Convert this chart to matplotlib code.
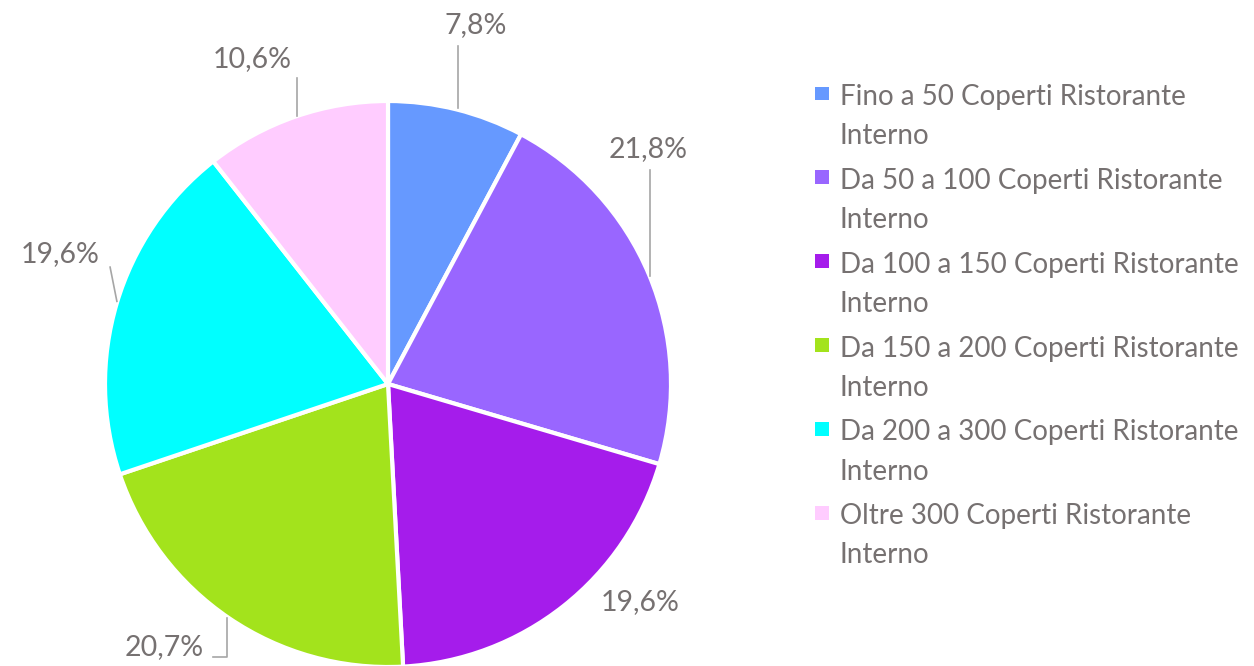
import matplotlib
matplotlib.use('Agg')
import matplotlib.pyplot as plt
from matplotlib.patches import Patch, Rectangle
from matplotlib.legend_handler import HandlerPatch

# share of restaurants by indoor seating capacity
categories = ['Fino a 50 Coperti Ristorante Interno',
              'Da 50 a 100 Coperti Ristorante Interno',
              'Da 100 a 150 Coperti Ristorante Interno',
              'Da 150 a 200 Coperti Ristorante Interno',
              'Da 200 a 300 Coperti Ristorante Interno',
              'Oltre 300 Coperti Ristorante Interno']
values = [7.8, 21.8, 19.6, 20.7, 19.6, 10.6]
label_text = ['7,8%', '21,8%', '19,6%', '20,7%', '19,6%', '10,6%']

colors = ['#6699FF', '#9966FF', '#A51CEB', '#A3E31C', '#00FFFF', '#FFCCFF']
text_color = '#767171'
line_color = '#A6A6A6'

# label placement (in pie-radius units) and leader lines
label_pos = [(0.31, 1.27), (0.92, 0.83), (0.89, -0.77),
             (-0.79, -0.93), (-1.16, 0.46), (-0.48, 1.15)]
leaders = [
    [(0.247, 1.195), (0.247, 0.975)],
    [(0.926, 0.756), (0.926, 0.382)],
    None,
    [(-0.618, -0.965), (-0.569, -0.965), (-0.569, -0.826)],
    [(-0.982, 0.413), (-0.958, 0.292)],
    [(-0.322, 1.081), (-0.322, 0.947)],
]

plt.rcParams['font.family'] = ['Lato', 'DejaVu Sans']

W, H = 1254, 666
fig = plt.figure(figsize=(W / 100, H / 100), dpi=100)
cx, cy, R = 388, 666 - 384, 283
ax = fig.add_axes([(cx - R) / W, (cy - R) / H, 2 * R / W, 2 * R / H])

wedges, _ = ax.pie(values, colors=colors, startangle=90, counterclock=False,
                   radius=1.0, center=(0, 0), frame=False,
                   wedgeprops=dict(edgecolor='white', linewidth=3))
ax.set_xlim(-1, 1)
ax.set_ylim(-1, 1)
ax.axis('off')

for txt, (x, y), ld in zip(label_text, label_pos, leaders):
    ax.text(x, y, txt, ha='center', va='center', fontsize=20.5,
            color=text_color, clip_on=False)
    if ld:
        xs, ys = zip(*ld)
        ax.plot(xs, ys, color=line_color, lw=1.2, clip_on=False)


def top_square(legend, orig_handle, xdescent, ydescent, width, height, fontsize):
    # square marker next to the first line of a two-line label
    return Rectangle((-xdescent, -ydescent + height - width * 0.5), width, width)


handles = [Patch(facecolor=c, edgecolor='none') for c in colors]
labels = [c.replace(' Interno', '\nInterno') for c in categories]
leg = fig.legend(handles, labels, loc='upper left',
                 bbox_to_anchor=(790 / W, 1 - 59 / H), frameon=False,
                 fontsize=20, handlelength=0.5, handleheight=2.4,
                 handletextpad=0.4, labelspacing=0.67, labelcolor=text_color,
                 handler_map={Patch: HandlerPatch(patch_func=top_square)})
for t in leg.get_texts():
    t.set_linespacing(1.63)

fig.savefig('out.png', dpi=100)
